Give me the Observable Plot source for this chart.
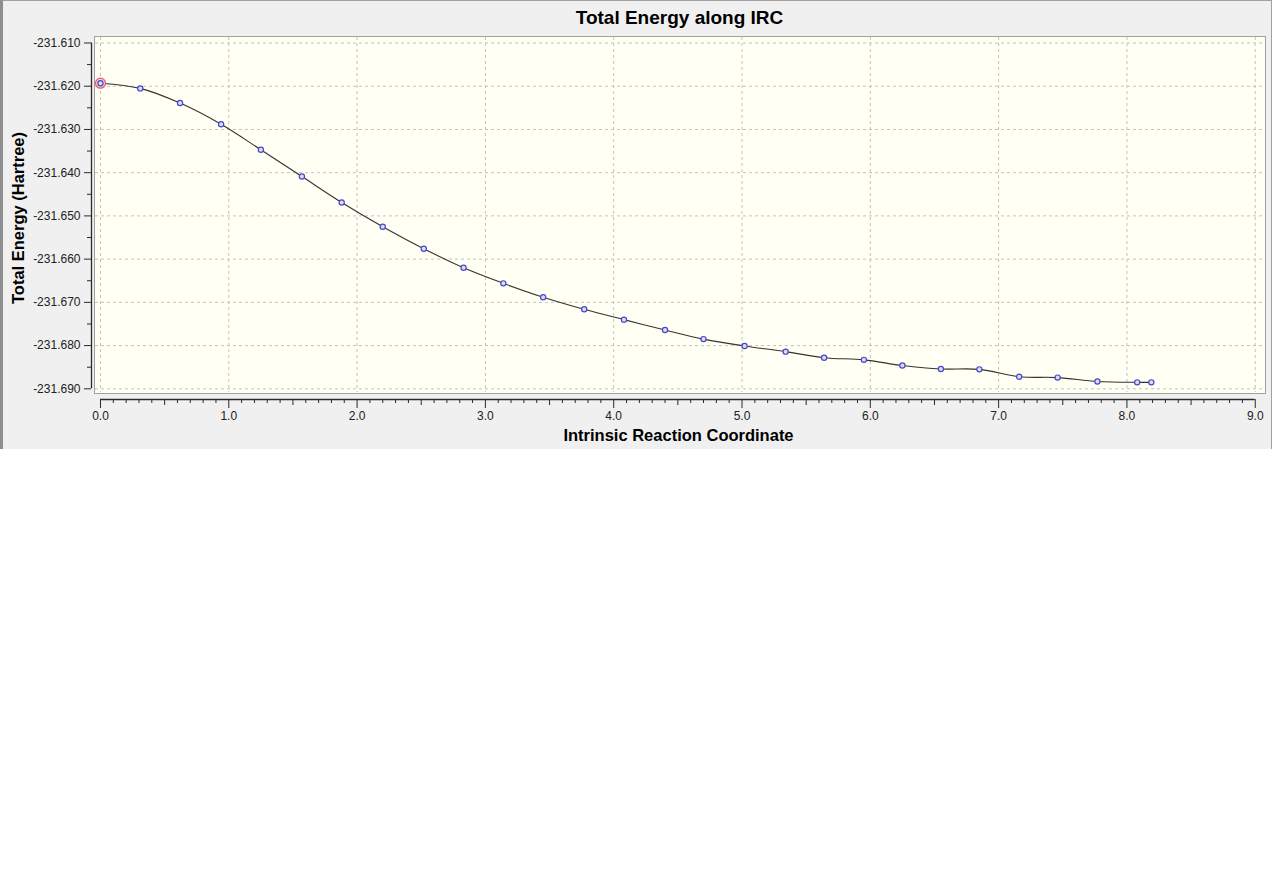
<!DOCTYPE html>
<html>
<head>
<meta charset="utf-8">
<script src="https://cdn.jsdelivr.net/npm/d3@7"></script>
<script src="https://cdn.jsdelivr.net/npm/@observablehq/plot@0.6"></script>
<style>
  html, body { margin: 0; padding: 0; background: #ffffff; }
  #panel {
    position: absolute; left: 0; top: 0; width: 1272px; height: 449px;
    box-sizing: border-box; background: #f0f0f0;
    border-top: 1px solid #a0a0a0; border-left: 3px solid #8e8e8e; border-right: 1px solid #a0a0a0;
  }
  #title {
    position: absolute; left: 94px; top: 0; width: 1171px; height: 36px;
    line-height: 36px; text-align: center;
    font-family: Arial, "Liberation Sans", sans-serif; font-weight: bold; font-size: 19px; color: #000;
  }
  #chart { position: absolute; left: 0; top: 36px; }
</style>
</head>
<body>
<div id="panel"></div>
<div id="title">Total Energy along IRC</div>
<div id="chart"></div>
<script>
// Intrinsic reaction coordinate (x) and total energy in Hartree (y)
const irc = [0.00, 0.31, 0.62, 0.94, 1.25, 1.57, 1.88, 2.20, 2.52, 2.83, 3.14, 3.45, 3.77, 4.08,
             4.40, 4.70, 5.02, 5.34, 5.64, 5.95, 6.25, 6.55, 6.85, 7.16, 7.46, 7.77, 8.08, 8.19];
const energy = [-231.6193, -231.6205, -231.6239, -231.6288, -231.6347, -231.6409, -231.6469,
                -231.6525, -231.6576, -231.6620, -231.6656, -231.6688, -231.6716, -231.6740,
                -231.6764, -231.6785, -231.6801, -231.6814, -231.6828, -231.6833, -231.6846,
                -231.6854, -231.6855, -231.6872, -231.6874, -231.6883, -231.6885, -231.6885];

// Tick values
const yTicks = [-231.610, -231.620, -231.630, -231.640, -231.650, -231.660, -231.670, -231.680, -231.690];
const xTicks = [0, 1, 2, 3, 4, 5, 6, 7, 8, 9];
const yMinor = yTicks.slice(1).map((v, i) => (v + yTicks[i]) / 2);
const xHalf = xTicks.slice(1).map((v, i) => (v + xTicks[i]) / 2);
const xMinor = d3.range(0, 90).map(i => i / 10).filter(v => Math.round(v * 10) % 5 !== 0);

const xDomain = [-0.070, 9.080];
const yDomain = [-231.69247, -231.6085];

const data = irc.map((x, i) => ({x, y: energy[i]}));

const gridStyle = {stroke: "#c2c2c2", strokeDasharray: "3,3", strokeOpacity: 1};
const axisColor = "#2a2a2a";

const chart = Plot.plot({
  width: 1272,
  height: 413,
  marginTop: 0,
  marginBottom: 50,
  marginLeft: 91,
  marginRight: 7,
  style: {background: "transparent", fontFamily: "Arial, 'Liberation Sans', sans-serif", fontSize: "12px", color: "#222"},
  x: {domain: xDomain},
  y: {domain: yDomain},
  marks: [
    Plot.frame({fill: "#fffff4", stroke: "#a0a0a0", insetLeft: 3, insetBottom: 6}),
    Plot.ruleX(xTicks, {...gridStyle, insetBottom: 7, insetTop: 1}),
    Plot.ruleY(yTicks, {...gridStyle, insetLeft: 4, insetRight: 2}),
    // axis lines
    Plot.ruleX([xDomain[0]], {y1: d3.min(yTicks), y2: d3.max(yTicks), stroke: axisColor, strokeWidth: 1.3}),
    Plot.ruleY([yDomain[0]], {x1: d3.min(xTicks), x2: d3.max(xTicks), stroke: axisColor, strokeWidth: 1.3}),
    // y axis ticks & labels
    Plot.axisY(yTicks, {tickSize: 7, tickPadding: 4, tickFormat: d => d.toFixed(3), stroke: axisColor, fill: "#222", label: null}),
    Plot.axisY(yMinor, {tickSize: 4, stroke: axisColor, fill: "none", label: null}),
    Plot.axisY([], {tickSize: 0, label: "Total Energy (Hartree)", labelAnchor: "center", labelArrow: "none",
                    labelOffset: 79, fontSize: 16.5, fontWeight: "bold", fill: "#000"}),
    // x axis ticks & labels
    Plot.axisX(xTicks, {tickSize: 9, tickPadding: 3, tickFormat: d => d.toFixed(1), stroke: axisColor, fill: "#222", label: null}),
    Plot.axisX(xHalf, {tickSize: 6, stroke: axisColor, fill: "none", label: null}),
    Plot.axisX(xMinor, {tickSize: 4, stroke: axisColor, fill: "none", label: null}),
    Plot.axisX([], {tickSize: 0, label: "Intrinsic Reaction Coordinate", labelAnchor: "center", labelArrow: "none",
                    labelOffset: 41, fontSize: 16.5, fontWeight: "bold", fill: "#000"}),
    // data
    Plot.line(data, {x: "x", y: "y", curve: "catmull-rom", stroke: "#333", strokeWidth: 1.1}),
    Plot.dot(data.slice(0, 1), {x: "x", y: "y", r: 5, stroke: "#e05a6a", fill: "#f6cdd4", strokeWidth: 1.2}),
    Plot.dot(data, {x: "x", y: "y", r: 2.6, stroke: "#4848c4", fill: "#dcdcf8", strokeWidth: 1.2})
  ]
});
document.getElementById("chart").appendChild(chart);
</script>
</body>
</html>
